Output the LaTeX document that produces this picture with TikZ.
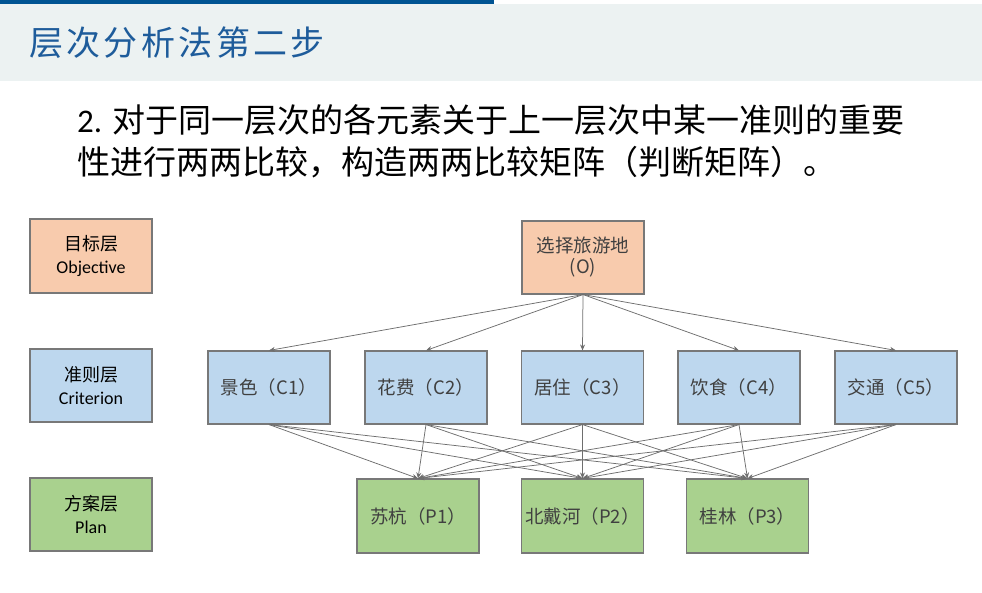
\documentclass[tikz,border=0pt]{standalone}
\usepackage{fontspec}
\usetikzlibrary{arrows.meta}
\newfontfamily\cjk{Noto Sans CJK SC}
\newfontfamily\calib{Carlito}
\definecolor{topbar}{RGB}{0,84,147}
\definecolor{titlebg}{RGB}{236,242,242}
\definecolor{titlecol}{RGB}{30,92,155}
\definecolor{orangefill}{RGB}{248,203,173}
\definecolor{bluefill}{RGB}{189,215,238}
\definecolor{greenfill}{RGB}{169,209,142}
\definecolor{boxline}{RGB}{120,120,120}
\definecolor{boxtext}{RGB}{64,64,64}
\definecolor{arrcol}{RGB}{110,110,110}
\begin{document}
\begin{tikzpicture}[x=1pt,y=-1pt,
  box/.style={draw=boxline, line width=1.1pt, minimum width=122pt, minimum height=73pt, inner sep=0pt, align=center},
  legendbox/.style={box, font=\fontsize{18}{23}\selectfont, text=black},
  nodebox/.style={box, font=\cjk\fontsize{18.5}{22}\selectfont, text=boxtext},
  arr/.style={draw=arrcol, line width=0.75pt, -{Stealth[length=6pt,width=5pt]}}]
\useasboundingbox (0,0) rectangle (982,592);
\fill[topbar] (0,0) rectangle (494,4);
\fill[titlebg] (0,4) rectangle (982,81);
\node[anchor=west, inner sep=0pt, text=titlecol, font=\cjk\fontsize{34}{40}\selectfont\addfontfeatures{LetterSpace=10}] (title) at (29,43) {层次分析法第二步};
\node[anchor=west, inner sep=0pt, font=\fontsize{33}{40}\selectfont] (line1) at (77,120) {{\calib 2. }{\cjk 对于同一层次的各元素关于上一层次中某一准则的重要}};
\node[anchor=west, inner sep=0pt, font=\cjk\fontsize{33}{40}\selectfont] (line2) at (77,162) {性进行两两比较，构造两两比较矩阵（判断矩阵）。};
% legend
\node[legendbox, fill=orangefill, minimum height=74pt] (lo) at (91,256) {{\cjk 目标层}\\{\calib Objective}};
\node[legendbox, fill=bluefill] (lc) at (91,385.5) {{\cjk 准则层}\\{\calib Criterion}};
\node[legendbox, fill=greenfill] (lp) at (91,514.5) {{\cjk 方案层}\\{\calib Plan}};
% hierarchy
\node[nodebox, fill=orangefill, font=\cjk\fontsize{18.5}{21}\selectfont] (o) at (583,257.5) {选择旅游地\\(O)};
\node[nodebox, fill=bluefill] (c1) at (269,387.5) {景色（C1）};
\node[nodebox, fill=bluefill] (c2) at (426,387.5) {花费（C2）};
\node[nodebox, fill=bluefill] (c3) at (582.5,387.5) {居住（C3）};
\node[nodebox, fill=bluefill] (c4) at (739,387.5) {饮食（C4）};
\node[nodebox, fill=bluefill] (c5) at (896,387.5) {交通（C5）};
\node[nodebox, fill=greenfill, minimum height=74pt] (p1) at (418,516) {苏杭（P1）};
\node[nodebox, fill=greenfill, minimum height=74pt] (p2) at (582.5,516) {北戴河（P2）};
\node[nodebox, fill=greenfill, minimum height=74pt] (p3) at (747.5,516) {桂林（P3）};
\foreach \c in {c1,c2,c3,c4,c5}
  \draw[arr] (o.south) -- (\c.north);
\foreach \c in {c1,c2,c3,c4,c5}
  \foreach \p in {p1,p2,p3}
    \draw[arr] (\c.south) -- (\p.north);
\end{tikzpicture}
\end{document}
